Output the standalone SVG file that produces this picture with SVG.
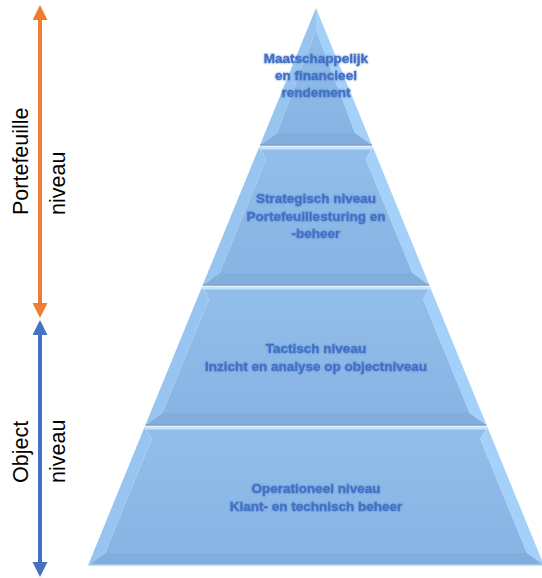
<svg xmlns="http://www.w3.org/2000/svg" width="542" height="578" viewBox="0 0 542 578">
<style>
.face{fill:url(#faceG)}
.bl{fill:#98c5f0}
.br{fill:#a4d1f9}
.bt{fill:#90bdea}
.bb{fill:#82aede}
.hl{stroke:#c2e4fd;stroke-width:3;fill:none}
.dk{stroke:#7f9fc4;stroke-width:1.5;fill:none}
.lbl{font-family:"Liberation Sans",Arial,sans-serif;font-weight:bold;font-size:13.5px;fill:#4270c4;stroke:#4a78c8;stroke-width:0.35;text-anchor:middle;filter:url(#glow)}
.side{font-family:"Liberation Sans",Arial,sans-serif;font-size:21.5px;fill:#000}
</style>
<defs>
<linearGradient id="faceG" x1="0" y1="0" x2="0" y2="1">
<stop offset="0" stop-color="#91bdea"/>
<stop offset="1" stop-color="#88b4e4"/>
</linearGradient>
<filter id="glow" x="-10%" y="-30%" width="120%" height="160%">
<feGaussianBlur in="SourceAlpha" stdDeviation="0.9" result="b"/>
<feFlood flood-color="#4f7dcc" flood-opacity="0.7"/>
<feComposite in2="b" operator="in" result="g"/>
<feMerge><feMergeNode in="g"/><feMergeNode in="SourceGraphic"/></feMerge>
</filter>
<marker id="hO" markerUnits="userSpaceOnUse" markerWidth="16" markerHeight="16" refX="0" refY="7.5" orient="auto-start-reverse">
<path d="M0,0 L15,7.5 L0,15 z" fill="#ed7d31"/>
</marker>
<marker id="hB" markerUnits="userSpaceOnUse" markerWidth="16" markerHeight="16" refX="0" refY="7.5" orient="auto-start-reverse">
<path d="M0,0 L15,7.5 L0,15 z" fill="#4472c4"/>
</marker>
</defs>

<g id="tier1">
<polygon class="bl" points="316,8 260,145 276.9,133 316,30"/>
<polygon class="br" points="316,8 372,145 355.1,133 316,30"/>
<polygon class="bb" points="260,145 372,145 355.1,133 276.9,133"/>
<polygon class="face" points="316,30 355.1,133 276.9,133"/>
<line class="dk" x1="260" y1="145" x2="372" y2="145"/>
<text class="lbl" x="316" y="63">Maatschappelijk</text>
<text class="lbl" x="316" y="80">en financieel</text>
<text class="lbl" x="316" y="97">rendement</text>
</g>

<g id="tier2">
<polygon class="bt" points="259.2,147 372.8,147 365.8,159 266.2,159"/>
<polygon class="bl" points="259.2,147 266.2,159 219.6,273 202.7,285"/>
<polygon class="br" points="372.8,147 429.3,285 412.4,273 365.8,159"/>
<polygon class="bb" points="202.7,285 429.3,285 412.4,273 219.6,273"/>
<polygon class="face" points="266.2,159 365.8,159 412.4,273 219.6,273"/>
<line class="hl" x1="259.2" y1="148" x2="372.8" y2="148"/>
<line class="dk" x1="202.7" y1="285" x2="429.3" y2="285"/>
<text class="lbl" x="316" y="203">Strategisch niveau</text>
<text class="lbl" x="316" y="221">Portefeuillesturing en</text>
<text class="lbl" x="316" y="238">-beheer</text>
</g>

<g id="tier3">
<polygon class="bt" points="201.9,287 430.1,287 423,299 209,299"/>
<polygon class="bl" points="201.9,287 209,299 162.4,413 145.4,425"/>
<polygon class="br" points="430.1,287 486.6,425 469.6,413 423,299"/>
<polygon class="bb" points="145.4,425 486.6,425 469.6,413 162.4,413"/>
<polygon class="face" points="209,299 423,299 469.6,413 162.4,413"/>
<line class="hl" x1="201.9" y1="288" x2="430.1" y2="288"/>
<line class="dk" x1="145.4" y1="425" x2="486.6" y2="425"/>
<text class="lbl" x="316" y="353">Tactisch niveau</text>
<text class="lbl" x="316" y="371">Inzicht en analyse op objectniveau</text>
</g>

<g id="tier4">
<polygon class="bt" points="144.6,427 487.4,427 480.3,439 151.7,439"/>
<polygon class="bl" points="144.6,427 151.7,439 105.1,553 88.2,565"/>
<polygon class="br" points="487.4,427 543.8,565 526.9,553 480.3,439"/>
<polygon class="bb" points="88.2,565 543.8,565 526.9,553 105.1,553"/>
<polygon class="face" points="151.7,439 480.3,439 526.9,553 105.1,553"/>
<line class="hl" x1="144.6" y1="428" x2="487.4" y2="428"/>
<line x1="88.2" y1="565" x2="543.8" y2="565" stroke="#a9d3f8" stroke-width="1.5"/>
<text class="lbl" x="316" y="493">Operationeel niveau</text>
<text class="lbl" x="316" y="511">Klant- en technisch beheer</text>
</g>

<g id="connectors">
<line x1="40" y1="20" x2="40" y2="303" stroke="#ed7d31" stroke-width="4" marker-start="url(#hO)" marker-end="url(#hO)"/>
<line x1="40" y1="335" x2="40" y2="562" stroke="#4472c4" stroke-width="4" marker-start="url(#hB)" marker-end="url(#hB)"/>
</g>

<g id="label-portefeuille">
<text class="side" transform="translate(28,215) rotate(-90)">Portefeuille</text>
<text class="side" transform="translate(65,215) rotate(-90)">niveau</text>
</g>
<g id="label-object">
<text class="side" transform="translate(28,483) rotate(-90)">Object</text>
<text class="side" transform="translate(65,483) rotate(-90)">niveau</text>
</g>
</svg>
